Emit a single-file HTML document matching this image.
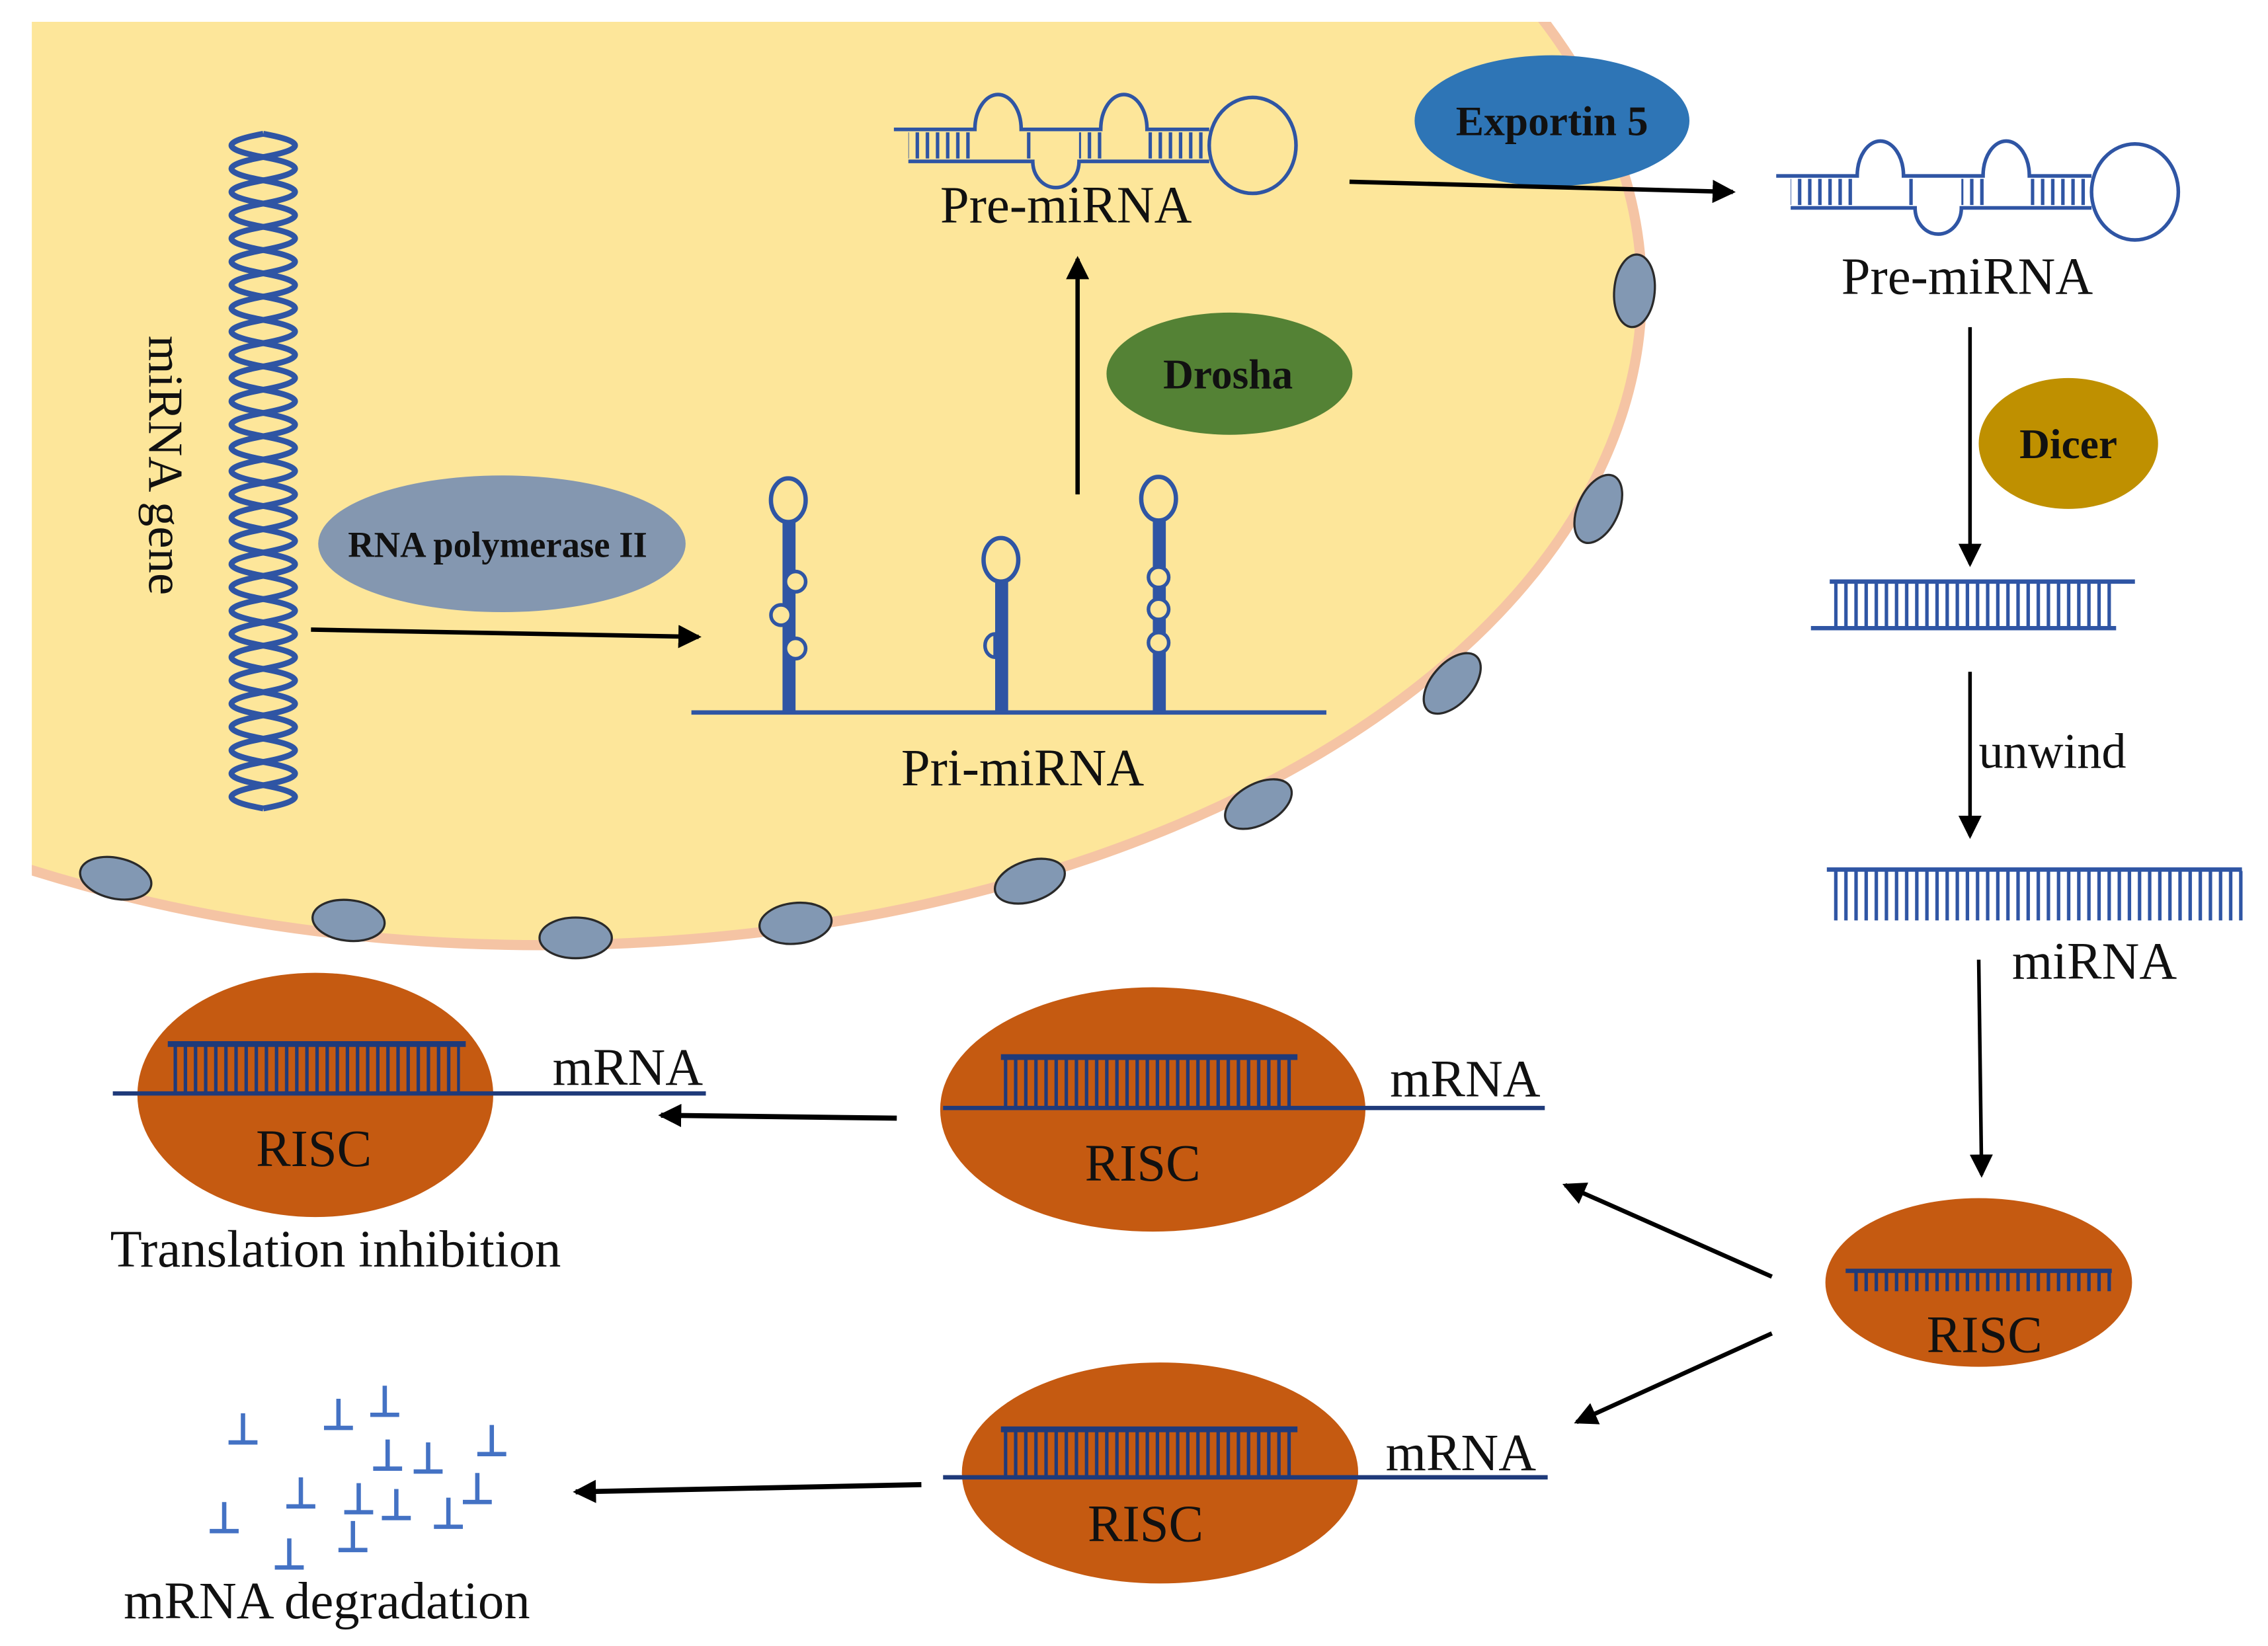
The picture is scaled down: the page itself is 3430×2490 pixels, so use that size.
<!DOCTYPE html>
<html><head><meta charset="utf-8"><style>html,body{margin:0;padding:0;background:#fff}svg{display:block}</style></head><body>
<svg width="3430" height="2490" viewBox="0 0 1568 1132" preserveAspectRatio="none" xmlns="http://www.w3.org/2000/svg" font-family="'Liberation Serif', serif">
<defs>
<pattern id="tk" width="7" height="1000" patternUnits="userSpaceOnUse"><rect x="1" y="0" width="2.4" height="1000" fill="#2f55a4"/></pattern>
<pattern id="tkd" width="7" height="1000" patternUnits="userSpaceOnUse"><rect x="1" y="0" width="2.4" height="1000" fill="#1f3a7a"/></pattern>
<clipPath id="cp"><rect x="22" y="15" width="1200" height="700"/></clipPath>
<marker id="ahb" markerWidth="16" markerHeight="16" refX="14" refY="8" orient="auto" markerUnits="userSpaceOnUse"><path d="M0,0 L16,8 L0,16 z" fill="#000"/></marker>
<g id="pre" fill="none" stroke="#2f55a4" stroke-width="2.5">
  <path d="M0,78 H56 A16,24 0 0 1 88,78 H143 A16,24 0 0 1 175,78 H218"/>
  <path d="M10,100 H96 A16,18 0 0 0 128,100 H218"/>
  <ellipse cx="248" cy="89" rx="30" ry="33"/>
  <rect x="10" y="80" width="46" height="18" fill="url(#tk)" stroke="none"/>
  <rect x="88" y="80" width="10" height="18" fill="url(#tk)" stroke="none"/>
  <rect x="128" y="80" width="16" height="18" fill="url(#tk)" stroke="none"/>
  <rect x="176" y="80" width="42" height="18" fill="url(#tk)" stroke="none"/>
</g>
</defs>
<rect width="1568" height="1132" fill="#fff"/>
<g clip-path="url(#cp)">
<ellipse cx="375" cy="200" rx="760" ry="450" fill="#fde69a" stroke="#f5c4a4" stroke-width="7"/>
</g>
<g fill="#8298b3" stroke="#2a2a2a" stroke-width="1.5">
<ellipse cx="80" cy="604" rx="25" ry="14" transform="rotate(12 80 604)"/>
<ellipse cx="241" cy="633" rx="25" ry="14" transform="rotate(6 241 633)"/>
<ellipse cx="398" cy="645" rx="25" ry="14"/>
<ellipse cx="550" cy="635" rx="25" ry="14" transform="rotate(-6 550 635)"/>
<ellipse cx="712" cy="606" rx="25" ry="14" transform="rotate(-18 712 606)"/>
<ellipse cx="870" cy="553" rx="25" ry="14" transform="rotate(-28 870 553)"/>
<ellipse cx="1004" cy="470" rx="25" ry="14" transform="rotate(-48 1004 470)"/>
<ellipse cx="1105" cy="350" rx="25" ry="14" transform="rotate(-65 1105 350)"/>
<ellipse cx="1130" cy="200" rx="25" ry="14" transform="rotate(-85 1130 200)"/>
</g>
<g fill="none" stroke="#2f55a4" stroke-width="4">
<path d="M182,92 q44,8 0,16 t0,16 t0,16 t0,16 t0,16 t0,16 t0,16 t0,16 t0,16 t0,16 t0,16 t0,16 t0,16 t0,16 t0,16 t0,16 t0,16 t0,16 t0,16 t0,16 t0,16 t0,16 t0,16 t0,16 t0,16 t0,16 t0,16 t0,16 t0,16"/>
<path d="M182,92 q-44,8 0,16 t0,16 t0,16 t0,16 t0,16 t0,16 t0,16 t0,16 t0,16 t0,16 t0,16 t0,16 t0,16 t0,16 t0,16 t0,16 t0,16 t0,16 t0,16 t0,16 t0,16 t0,16 t0,16 t0,16 t0,16 t0,16 t0,16 t0,16 t0,16"/>
</g>
<text transform="translate(103,320) rotate(90)" font-size="34" text-anchor="middle" fill="#111">miRNA gene</text>
<ellipse cx="347" cy="374" rx="127" ry="47" fill="#8497b0"/>
<text x="344" y="383" font-size="25" font-weight="bold" text-anchor="middle" fill="#111">RNA polymerase II</text>
<line x1="215" y1="433" x2="483" y2="438" stroke="#000" stroke-width="3" marker-end="url(#ahb)"/>
<g fill="none" stroke="#2f55a4" stroke-width="3">
<line x1="478" y1="490" x2="917" y2="490"/>
<ellipse cx="545" cy="344" rx="12" ry="15"/>
<ellipse cx="692" cy="385" rx="12" ry="15"/>
<ellipse cx="801" cy="343" rx="12" ry="15"/>
</g>
<g fill="#2f55a4">
<rect x="541" y="358" width="9" height="132"/>
<rect x="688" y="399" width="9" height="91"/>
<rect x="797" y="357" width="9" height="133"/>
</g>
<g fill="#fde69a" stroke="#2f55a4" stroke-width="2.5">
<circle cx="550" cy="400" r="7"/><circle cx="540" cy="423" r="7"/><circle cx="550" cy="446" r="7"/>
<path d="M688,436 a7,8 0 0 0 0,16 z"/>
<circle cx="801" cy="397" r="7"/><circle cx="801" cy="419" r="7"/><circle cx="801" cy="442" r="7"/>
</g>
<text x="707" y="540" font-size="36" text-anchor="middle" fill="#111">Pri-miRNA</text>
<line x1="745" y1="340" x2="745" y2="178" stroke="#000" stroke-width="3" marker-end="url(#ahb)"/>
<ellipse cx="850" cy="257" rx="85" ry="42" fill="#548235"/>
<text x="849" y="267" font-size="29" font-weight="bold" text-anchor="middle" fill="#111">Drosha</text>
<use href="#pre" transform="translate(618,11)"/>
<text x="737" y="153" font-size="36" text-anchor="middle" fill="#111">Pre-miRNA</text>
<ellipse cx="1073" cy="83" rx="95" ry="45" fill="#2e75b6"/>
<text x="1073" y="93" font-size="29" font-weight="bold" text-anchor="middle" fill="#111">Exportin 5</text>
<line x1="933" y1="125" x2="1198" y2="132" stroke="#000" stroke-width="3" marker-end="url(#ahb)"/>
<use href="#pre" transform="translate(1228,43)"/>
<text x="1360" y="202" font-size="36" text-anchor="middle" fill="#111">Pre-miRNA</text>
<line x1="1362" y1="225" x2="1362" y2="388" stroke="#000" stroke-width="2.5" marker-end="url(#ahb)"/>
<ellipse cx="1430" cy="305" rx="62" ry="45" fill="#bf9000"/>
<text x="1430" y="315" font-size="29" font-weight="bold" text-anchor="middle" fill="#111">Dicer</text>
<g stroke="#2f55a4" stroke-width="3"><line x1="1265" y1="400" x2="1476" y2="400"/><line x1="1252" y1="432" x2="1463" y2="432"/></g>
<rect x="1268" y="401" width="194" height="30" fill="url(#tk)"/>
<line x1="1362" y1="462" x2="1362" y2="575" stroke="#000" stroke-width="2.5" marker-end="url(#ahb)"/>
<text x="1368" y="528" font-size="34" fill="#111">unwind</text>
<line x1="1263" y1="598" x2="1550" y2="598" stroke="#2f55a4" stroke-width="3"/>
<rect x="1264" y="599" width="287" height="34" fill="url(#tk)"/>
<text x="1448" y="673" font-size="36" text-anchor="middle" fill="#111">miRNA</text>
<line x1="1368" y1="660" x2="1370" y2="808" stroke="#000" stroke-width="2.5" marker-end="url(#ahb)"/>
<ellipse cx="1368" cy="882" rx="106" ry="58" fill="#c55a11"/>
<line x1="1276" y1="874" x2="1460" y2="874" stroke="#1f3a7a" stroke-width="3"/>
<rect x="1278" y="875" width="182" height="13" fill="url(#tkd)"/>
<text x="1372" y="930" font-size="36" text-anchor="middle" fill="#111">RISC</text>
<line x1="1225" y1="878" x2="1082" y2="815" stroke="#000" stroke-width="3" marker-end="url(#ahb)"/>
<line x1="1225" y1="917" x2="1090" y2="978" stroke="#000" stroke-width="3" marker-end="url(#ahb)"/>
<ellipse cx="797" cy="763" rx="147" ry="84" fill="#c55a11"/>
<line x1="692" y1="727" x2="897" y2="727" stroke="#1f3a7a" stroke-width="4"/>
<rect x="694" y="728" width="200" height="33" fill="url(#tkd)"/>
<line x1="652" y1="762" x2="1068" y2="762" stroke="#1f3a7a" stroke-width="3"/>
<text x="1013" y="754" font-size="36" text-anchor="middle" fill="#111">mRNA</text>
<text x="790" y="812" font-size="36" text-anchor="middle" fill="#111">RISC</text>
<line x1="620" y1="769" x2="457" y2="767" stroke="#000" stroke-width="3.5" marker-end="url(#ahb)"/>
<ellipse cx="218" cy="753" rx="123" ry="84" fill="#c55a11"/>
<line x1="116" y1="718" x2="322" y2="718" stroke="#1f3a7a" stroke-width="4"/>
<rect x="118" y="719" width="200" height="33" fill="url(#tkd)"/>
<line x1="78" y1="752" x2="488" y2="752" stroke="#1f3a7a" stroke-width="3"/>
<text x="434" y="746" font-size="36" text-anchor="middle" fill="#111">mRNA</text>
<text x="217" y="802" font-size="36" text-anchor="middle" fill="#111">RISC</text>
<text x="232" y="871" font-size="36" text-anchor="middle" fill="#111">Translation inhibition</text>
<ellipse cx="802" cy="1013" rx="137" ry="76" fill="#c55a11"/>
<line x1="692" y1="983" x2="897" y2="983" stroke="#1f3a7a" stroke-width="4"/>
<rect x="694" y="984" width="200" height="31" fill="url(#tkd)"/>
<line x1="652" y1="1016" x2="1070" y2="1016" stroke="#1f3a7a" stroke-width="3"/>
<text x="1010" y="1011" font-size="36" text-anchor="middle" fill="#111">mRNA</text>
<text x="792" y="1060" font-size="36" text-anchor="middle" fill="#111">RISC</text>
<line x1="637" y1="1021" x2="398" y2="1026" stroke="#000" stroke-width="3.5" marker-end="url(#ahb)"/>
<g fill="none" stroke="#4472c4" stroke-width="3">
<path d="M168,972 v20 M158,992 h20"/>
<path d="M234,962 v20 M224,982 h20"/>
<path d="M266,953 v20 M256,973 h20"/>
<path d="M340,980 v20 M330,1000 h20"/>
<path d="M268,990 v20 M258,1010 h20"/>
<path d="M296,992 v20 M286,1012 h20"/>
<path d="M208,1016 v20 M198,1036 h20"/>
<path d="M248,1020 v20 M238,1040 h20"/>
<path d="M274,1024 v20 M264,1044 h20"/>
<path d="M330,1013 v20 M320,1033 h20"/>
<path d="M310,1030 v20 M300,1050 h20"/>
<path d="M155,1033 v20 M145,1053 h20"/>
<path d="M244,1046 v20 M234,1066 h20"/>
<path d="M200,1058 v20 M190,1078 h20"/>
</g>
<text x="226" y="1113" font-size="36" text-anchor="middle" fill="#111">mRNA degradation</text>
</svg>
</body></html>
